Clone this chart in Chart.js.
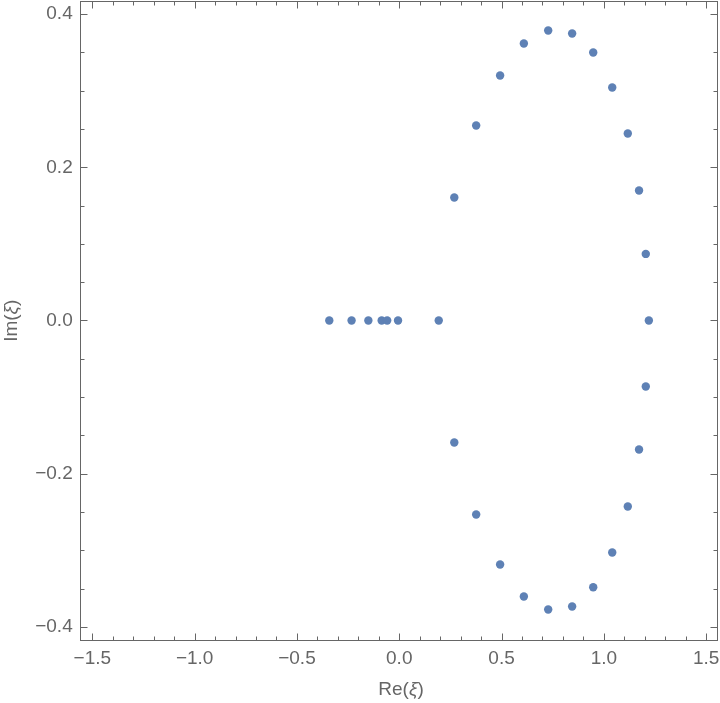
<!DOCTYPE html>
<html>
<head>
<meta charset="utf-8">
<script src="https://cdn.jsdelivr.net/npm/chart.js@4.4.1/dist/chart.umd.min.js"></script>
<style>
  html, body { margin: 0; padding: 0; background: #fff; }
  #wrap { width: 720px; height: 703px; }
</style>
</head>
<body>
<div id="wrap"><canvas id="chart" width="720" height="703"></canvas></div>
<script>
// points sitting on the real axis
const axisRe = [-0.342, -0.233, -0.151, -0.086, -0.059, -0.006, 0.193, 1.220];
// upper arc (Im > 0)
const upperRe = [0.269, 0.376, 0.493, 0.609, 0.728, 0.845, 0.948, 1.041, 1.117, 1.172, 1.205];
const upperIm = [0.1606, 0.2546, 0.3198, 0.3616, 0.3786, 0.3747, 0.3499, 0.3042, 0.2441, 0.1697, 0.0869];
// lower arc (Im < 0)
const lowerRe = [0.269, 0.376, 0.493, 0.609, 0.728, 0.845, 0.948, 1.041, 1.117, 1.172, 1.205];
const lowerIm = [-0.1593, -0.2533, -0.3185, -0.3603, -0.3773, -0.3734, -0.3482, -0.3029, -0.2428, -0.1684, -0.0862];

const xTicks = [-1.5, -1.0, -0.5, 0.0, 0.5, 1.0, 1.5];
const yTicks = [-0.4, -0.2, 0.0, 0.2, 0.4];

const FONT = '"Liberation Sans", Arial, sans-serif';
const GRAY = '#666666';
const DOT = 'rgb(94,129,181)';

const points = []
  .concat(axisRe.map((x) => ({ x, y: 0 })))
  .concat(upperRe.map((x, i) => ({ x, y: upperIm[i] })))
  .concat(lowerRe.map((x, i) => ({ x, y: lowerIm[i] })));

const fmt = (v) => {
  const s = Math.abs(v).toFixed(1);
  return v < -1e-9 ? '\u2212' + s : s;
};

// minor ticks between the labelled ones
const minorsOf = (major, parts) => {
  const out = [];
  for (let i = 0; i < major.length - 1; i++) {
    const step = (major[i + 1] - major[i]) / parts;
    for (let k = 1; k < parts; k++) out.push(major[i] + step * k);
  }
  return out;
};
const xMinor = minorsOf(xTicks, 5);
const yMinor = minorsOf(yTicks, 4);

// keep the frame where the reference has it: no extra room for overhanging labels
const pinScale = (size) => (s) => {
  if (s.isHorizontal()) s.height = size; else s.width = size;
  s.paddingLeft = 0;
  s.paddingRight = 0;
  s.paddingTop = 0;
  s.paddingBottom = 0;
};

// Mathematica-style frame: box with inward ticks on all four sides, plus axis titles
const framePlugin = {
  id: 'frame',
  afterDraw(chart) {
    const { ctx, chartArea: a, scales } = chart;
    const L = Math.floor(a.left) + 0.5;
    const R = Math.floor(a.right) + 0.5;
    const T = Math.floor(a.top) + 0.5;
    const B = Math.floor(a.bottom) + 0.5;
    ctx.save();
    ctx.strokeStyle = GRAY;
    ctx.lineWidth = 1;
    ctx.strokeRect(L, T, R - L, B - T);

    ctx.beginPath();
    const xt = (v, len) => {
      const px = Math.round(scales.x.getPixelForValue(v)) + 0.5;
      ctx.moveTo(px, B); ctx.lineTo(px, B - len);
      ctx.moveTo(px, T); ctx.lineTo(px, T + len);
    };
    const yt = (v, len) => {
      const py = Math.round(scales.y.getPixelForValue(v)) + 0.5;
      ctx.moveTo(L, py); ctx.lineTo(L + len, py);
      ctx.moveTo(R, py); ctx.lineTo(R - len, py);
    };
    xTicks.forEach((v) => xt(v, 7));
    xMinor.forEach((v) => xt(v, 4));
    yTicks.forEach((v) => yt(v, 7));
    yMinor.forEach((v) => yt(v, 4));
    ctx.stroke();

    // axis titles, with an italic xi
    const drawTitle = (parts) => {
      let w = 0;
      parts.forEach((p) => { ctx.font = p[1] + ' 19px ' + FONT; w += ctx.measureText(p[0]).width; });
      let x = -w / 2;
      parts.forEach((p) => {
        ctx.font = p[1] + ' 19px ' + FONT;
        ctx.fillText(p[0], x, 0);
        x += ctx.measureText(p[0]).width;
      });
    };
    ctx.fillStyle = GRAY;
    ctx.textBaseline = 'alphabetic';
    ctx.textAlign = 'left';

    ctx.save();
    ctx.translate((a.left + a.right) / 2 + 2, 695);
    drawTitle([['Re(', 'normal'], ['\u03BE', 'italic'], [')', 'normal']]);
    ctx.restore();

    ctx.save();
    ctx.translate(17, (a.top + a.bottom) / 2);
    ctx.rotate(-Math.PI / 2);
    drawTitle([['Im(', 'normal'], ['\u03BE', 'italic'], [')', 'normal']]);
    ctx.restore();

    ctx.restore();
  },
};

new Chart(document.getElementById('chart'), {
  type: 'scatter',
  data: {
    datasets: [{
      data: points,
      backgroundColor: DOT,
      borderWidth: 0,
      pointRadius: 4.2,
    }],
  },
  options: {
    responsive: false,
    animation: false,
    layout: { autoPadding: false, padding: { left: 0, right: 2.6, top: 1.5, bottom: 0 } },
    plugins: { legend: { display: false }, tooltip: { enabled: false } },
    scales: {
      x: {
        type: 'linear',
        min: -1.557,
        max: 1.555,
        afterBuildTicks: (s) => { s.ticks = xTicks.map((v) => ({ value: v })); },
        afterFit: pinScale(63),
        grid: { display: false, drawTicks: false },
        border: { display: false },
        ticks: {
          callback: (v) => fmt(v),
          color: GRAY,
          font: { family: FONT, size: 19 },
          padding: 7,
          maxRotation: 0,
          autoSkip: false,
        },
      },
      y: {
        type: 'linear',
        min: -0.4171,
        max: 0.4164,
        afterBuildTicks: (s) => { s.ticks = yTicks.map((v) => ({ value: v })); },
        afterFit: pinScale(80.7),
        grid: { display: false, drawTicks: false },
        border: { display: false },
        ticks: {
          callback: (v) => fmt(v),
          color: GRAY,
          font: { family: FONT, size: 19 },
          padding: 8,
          autoSkip: false,
        },
      },
    },
  },
  plugins: [framePlugin],
});
</script>
</body>
</html>
